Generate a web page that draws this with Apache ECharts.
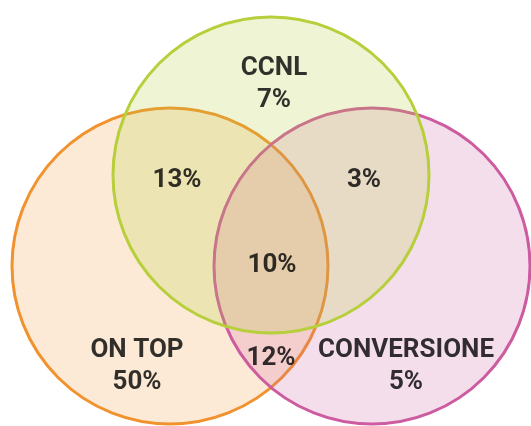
<!DOCTYPE html>
<html>
<head>
<meta charset="utf-8">
<script src="https://cdn.jsdelivr.net/npm/echarts@6/dist/echarts.min.js"></script>
<style>
  html, body { margin: 0; padding: 0; background: #ffffff; }
  #chart { width: 531px; height: 426px; }
</style>
</head>
<body>
<div id="chart"></div>
<script>
// Sets of the Venn diagram
const setNames = ['CCNL', 'ON TOP', 'CONVERSIONE'];

// Regions: exclusive parts first, then the overlaps
const regionNames = ['CCNL', 'ON TOP', 'CONVERSIONE', '', '', '', ''];
const regionShares = [7, 50, 5, 13, 3, 12, 10];

// Layout (chart space: 0..531 wide, 0..426 high, y down)
const circleCenters = [[271, 175], [170, 266], [372, 266]];
const circleRadius = 158;
const regionAnchors = [[274, 84], [137, 366], [406, 366], [177, 180], [364, 180], [271, 358], [272, 265]];

// Styles
const strokeColors = ['#b6cf3b', '#f0932f', '#cd5b9f'];
const fillColors = ['rgba(182,207,59,0.22)', 'rgba(242,150,48,0.2)', 'rgba(205,91,159,0.2)'];
const drawOrder = [1, 2, 0];

const circleData = drawOrder.map(i => ({
  name: setNames[i],
  value: [circleCenters[i][0], circleCenters[i][1], circleRadius, i]
}));

const labelData = regionShares.map((s, i) => ({
  name: regionNames[i],
  value: [regionAnchors[i][0], regionAnchors[i][1]],
  share: s
}));

const chart = echarts.init(document.getElementById('chart'), null, { renderer: 'canvas' });

chart.setOption({
  animation: false,
  grid: { left: 0, right: 0, top: 0, bottom: 0 },
  xAxis: { type: 'value', min: 0, max: 531, show: false },
  yAxis: { type: 'value', min: 0, max: 426, inverse: true, show: false },
  series: [
    {
      type: 'custom',
      coordinateSystem: 'cartesian2d',
      data: circleData,
      renderItem: function (params, api) {
        const c = api.coord([api.value(0), api.value(1)]);
        const r = api.size([api.value(2), 0])[0];
        const k = api.value(3);
        return {
          type: 'circle',
          shape: { cx: c[0], cy: c[1], r: r },
          style: { fill: fillColors[k], stroke: strokeColors[k], lineWidth: 3 }
        };
      },
      silent: true,
      z: 1
    },
    {
      type: 'scatter',
      data: labelData,
      symbolSize: 0,
      silent: true,
      z: 5,
      label: {
        show: true,
        position: 'inside',
        formatter: function (p) {
          const pct = p.data.share + '%';
          return p.data.name ? p.data.name + '\n' + pct : pct;
        },
        fontFamily: 'Roboto',
        fontWeight: 'bold',
        fontSize: 26,
        lineHeight: 32,
        color: '#000000',
        align: 'center',
        verticalAlign: 'middle'
      }
    }
  ]
});
</script>
</body>
</html>
